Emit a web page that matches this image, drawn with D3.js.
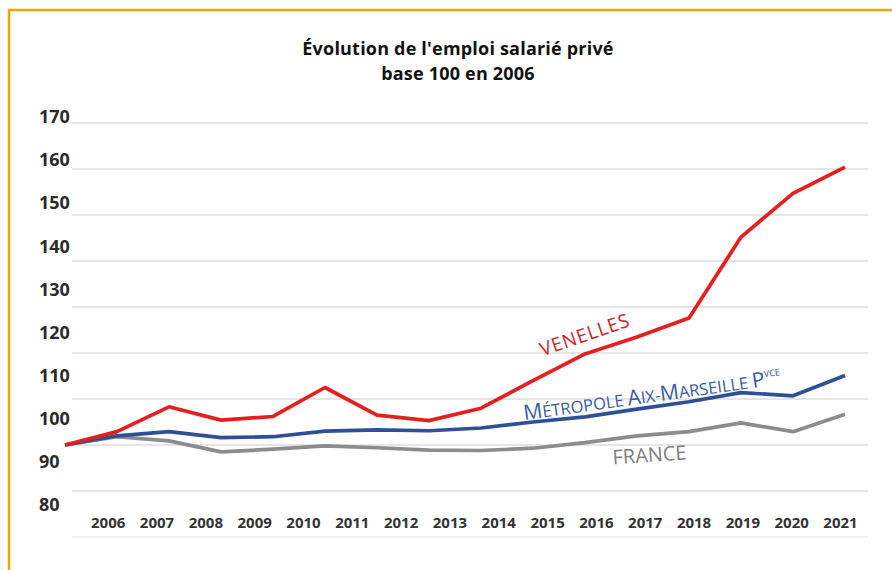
<!DOCTYPE html>
<html>
<head>
<meta charset="utf-8">
<script src="https://cdn.jsdelivr.net/npm/d3@7/dist/d3.min.js"></script>
<style>
  html, body { margin: 0; padding: 0; background: #fff; }
  svg { display: block; }
</style>
</head>
<body>
<svg id="chart" width="892" height="570"></svg>
<script>
// ---- Data ----
const years = ["2006","2007","2008","2009","2010","2011","2012","2013","2014","2015","2016","2017","2018","2019","2020","2021"];
const venelles  = [100, 102.9, 108.3, 105.4, 106.2, 112.5, 106.5, 105.3, 108.0, 114.0, 119.8, 123.5, 127.6, 145.2, 154.7, 160.4];
const metropole = [100, 102.0, 102.9, 101.6, 101.8, 103.0, 103.3, 103.1, 103.7, 105.0, 106.1, 107.8, 109.4, 111.4, 110.7, 115.1];
const france    = [100, 101.8, 100.9, 98.5, 99.1, 99.8, 99.4, 98.9, 98.8, 99.3, 100.5, 102.0, 102.9, 104.8, 102.9, 106.7];
const yTicks = [80, 90, 100, 110, 120, 130, 140, 150, 160, 170];
const titleLines = ["Évolution de l'emploi salarié privé", "base 100 en 2006"];

// ---- Setup ----
const svg = d3.select("#chart");
const W = 892, H = 570;

// Frame (orange border top/left)
svg.append("path")
  .attr("d", d3.line()([[9, H], [9, 10], [W, 10]]))
  .attr("fill", "none")
  .attr("stroke", "#f5a300")
  .attr("stroke-width", 2.5);

// Scales
const x = d3.scalePoint().domain(years).range([65, 845]);
const xLab = d3.scalePoint().domain(years).range([107.7, 840]);
const y = d3.scaleLinear().domain([80, 170]).range([537, 123]);
const yLab = d3.scaleLinear().domain([80, 170]).range([505, 117]);

// Title
svg.append("g").selectAll("text")
  .data(titleLines)
  .join("text")
  .attr("x", 458)
  .attr("y", (d, i) => 55 + i * 25)
  .attr("text-anchor", "middle")
  .attr("font-family", "'Open Sans', sans-serif")
  .attr("font-weight", 700)
  .attr("font-size", 18)
  .attr("letter-spacing", 0.2)
  .attr("fill", "#111")
  .text(d => d);

// Gridlines
svg.append("g").selectAll("line")
  .data(yTicks)
  .join("line")
  .attr("x1", 72).attr("x2", 868)
  .attr("y1", d => y(d)).attr("y2", d => y(d))
  .attr("stroke", d => d === 80 ? "#eeeeee" : "#dcdcdc")
  .attr("stroke-width", 1.5);

// Y axis labels
const yAxis = svg.append("g")
  .attr("transform", "translate(39,0)")
  .call(d3.axisRight(yLab).tickValues(yTicks).tickSize(0).tickPadding(0).tickFormat(d3.format("d")));
yAxis.select(".domain").remove();
yAxis.selectAll("text")
  .attr("font-family", "'Open Sans', sans-serif")
  .attr("font-weight", 700)
  .attr("font-size", 18)
  .attr("fill", "#2b2b2b");

// X axis labels
const xAxis = svg.append("g")
  .attr("transform", "translate(0,517)")
  .call(d3.axisBottom(xLab).tickSize(0).tickPadding(0));
xAxis.select(".domain").remove();
xAxis.selectAll("text")
  .attr("font-family", "'Open Sans', sans-serif")
  .attr("font-weight", 700)
  .attr("font-size", 15)
  .attr("fill", "#333");

// Lines
const line = d3.line().x((d, i) => x(years[i])).y(d => y(d));
const series = [
  { values: france, color: "#8c8c8c" },
  { values: metropole, color: "#2f4f96" },
  { values: venelles, color: "#e3201e" }
];
svg.append("g").selectAll("path")
  .data(series)
  .join("path")
  .attr("d", d => line(d.values))
  .attr("fill", "none")
  .attr("stroke", d => d.color)
  .attr("stroke-width", 3.7)
  .attr("stroke-linejoin", "round");

// Series labels
svg.append("text")
  .attr("transform", "translate(587,341) rotate(-19)")
  .attr("text-anchor", "middle")
  .attr("font-family", "'Open Sans', sans-serif")
  .attr("font-size", 19)
  .attr("letter-spacing", 0.8)
  .attr("fill", "#c8282a")
  .text("VENELLES");

const met = svg.append("text")
  .attr("transform", "translate(653,402) rotate(-8)")
  .attr("text-anchor", "middle")
  .attr("font-family", "'Open Sans', sans-serif")
  .attr("fill", "#3a5a9c");
const metParts = [["M", 21], ["ÉTROPOLE ", 16.5], ["A", 21], ["IX-", 16.5], ["M", 21], ["ARSEILLE ", 16.5], ["P", 21]];
metParts.forEach(([t, s]) => met.append("tspan").attr("font-size", s).text(t));
met.append("tspan").attr("font-size", 9).attr("dy", -9).text("VCE");

svg.append("text")
  .attr("transform", "translate(650,462) rotate(-4)")
  .attr("text-anchor", "middle")
  .attr("font-family", "'Open Sans', sans-serif")
  .attr("font-size", 20)
  .attr("fill", "#7f7f7f")
  .text("FRANCE");
</script>
</body>
</html>
